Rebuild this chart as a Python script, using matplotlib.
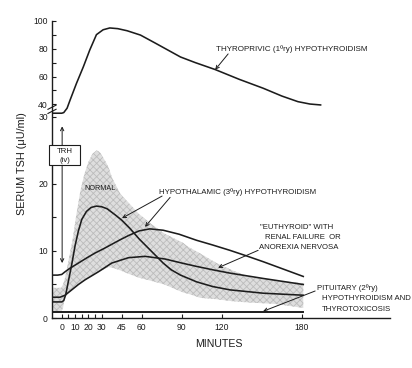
import numpy as np
import matplotlib
matplotlib.use('Agg')
import matplotlib.pyplot as plt
from matplotlib.patches import Rectangle

plt.rcParams['font.family'] = ['Liberation Sans', 'DejaVu Sans']
plt.rcParams['hatch.linewidth'] = 0.6

# ---------------- data (minutes, serum TSH uU/ml) ----------------
t_thyro = [-7.3, 0, 1.5, 4, 6.2, 11, 16.2, 21, 26, 31, 36, 42, 49, 59, 70, 89, 100, 115, 133, 151, 165, 177, 186, 194]
v_thyro = [33, 33, 33.5, 37, 43, 55, 67, 79, 90, 93.5, 94.8, 94.3, 92.8, 89.7, 84, 74, 70, 65, 58, 51.6, 46, 42, 40.3, 39.6]

t_upper = [-7.3, -3, 0, 2.5, 6, 12.5, 19, 25, 31, 37.5, 44, 50, 58, 66, 76, 88, 101, 113, 126, 138, 151, 166, 181]
v_upper = [6.4, 6.4, 6.5, 6.9, 7.4, 8.2, 9.0, 9.7, 10.3, 11.0, 11.7, 12.3, 13.0, 13.3, 13.1, 12.5, 11.6, 10.9, 10.1, 9.3, 8.4, 7.3, 6.2]

t_lower = [-7.3, -1.3, 2.5, 7.5, 12.5, 17.5, 27.5, 37.5, 50, 62.5, 77.5, 90, 101, 113, 126, 151, 181]
v_lower = [3.1, 3.1, 3.4, 4.2, 5.0, 5.7, 6.9, 8.2, 9.0, 9.2, 8.8, 8.2, 7.7, 7.2, 6.7, 5.9, 5.0]

t_peak = [-7.3, 0, 1.5, 3, 5, 7.5, 10, 12.5, 15, 18.5, 22, 26, 30, 34, 40, 45, 51, 58, 64, 70, 76, 82, 89, 101, 113, 126, 151, 181]
v_peak = [2.4, 2.4, 2.6, 3.5, 5.5, 8.0, 10.8, 13.0, 14.7, 15.9, 16.5, 16.7, 16.6, 16.3, 15.4, 14.6, 13.4, 11.8, 10.6, 9.4, 8.2, 7.2, 6.4, 5.4, 4.7, 4.2, 3.7, 3.4]

t_pit = [-7.3, 181]
v_pit = [0.9, 0.9]

# normal range band
t_band = [-7.3, -0.5, 1, 2.5, 3, 5, 7.5, 8, 11, 14, 17, 17.5, 20, 23, 26, 27.5, 29, 33, 35, 38, 44, 50, 58, 66, 77, 91, 95, 104, 116, 128, 141, 160, 181]
band_hi = [4.5, 4.5, 5.0, 6.0, 6.5, 8.5, 11.0, 11.5, 15.5, 19.0, 21.5, 21.8, 23.3, 24.5, 25.0, 24.9, 24.6, 23.3, 22.5, 20.8, 18.5, 17.2, 15.5, 14.2, 12.6, 11.2, 10.6, 9.6, 8.2, 7.1, 6.1, 5.6, 5.2]
band_lo = [0.9, 0.9, 1.5, 3.4, 3.5, 3.8, 4.2, 4.3, 4.8, 5.3, 5.6, 5.7, 6.0, 6.4, 6.7, 6.9, 7.0, 7.4, 7.6, 7.5, 7.1, 6.6, 6.0, 5.6, 5.0, 3.8, 3.6, 3.0, 2.8, 2.5, 2.3, 2.1, 1.5]

x_ticks = [0, 10, 20, 30, 45, 60, 90, 120, 180]
x_minor = [5, 15, 25]
y_ticks = [0, 10, 20, 30, 40, 60, 80, 100]
y_minor = [5, 15, 25, 50, 70, 90]

# ---------------- broken y scale ----------------
GAP = 0.187
UP = 0.2083
Z40 = 30 + 10 * GAP


def fwd(y):
    y = np.asarray(y, dtype=float)
    return np.where(y <= 30, y, np.where(y <= 40, 30 + (y - 30) * GAP, Z40 + (y - 40) * UP))


def inv(z):
    z = np.asarray(z, dtype=float)
    return np.where(z <= 30, z, np.where(z <= Z40, 30 + (z - 30) / GAP, 40 + (z - Z40) / UP))


INK = '#1c1c1c'
fig = plt.figure(figsize=(4.12, 3.68), dpi=100)
ax = fig.add_axes([52 / 412, 50 / 368, 338 / 412, 297.3 / 368])
ax.set_yscale('function', functions=(fwd, inv))
ax.set_xlim(-7.3, 246)
ax.set_ylim(0, 100)

for s in ['top', 'right']:
    ax.spines[s].set_visible(False)
for s in ['left', 'bottom']:
    ax.spines[s].set_linewidth(1.0)
    ax.spines[s].set_color(INK)

ax.set_xticks(x_ticks)
ax.set_xticklabels([str(v) for v in x_ticks])
ax.set_xticks(x_minor, minor=True)
ax.set_yticks(y_ticks)
ax.set_yticklabels([str(v) for v in y_ticks])
ax.set_yticks(y_minor, minor=True)
ax.tick_params(which='both', direction='in', length=3.2, width=0.8, color=INK,
               labelsize=6.2, labelcolor=INK)
ax.tick_params(axis='x', pad=3.5)
ax.tick_params(axis='y', pad=3)

# band (stippled normal range)
ax.fill_between(t_band, band_lo, band_hi, facecolor='#dedede', edgecolor='#bcbcbc',
                hatch='xxxxx', linewidth=0, zorder=1)

lw = 1.15
ax.plot(t_thyro, v_thyro, color=INK, lw=lw, zorder=3)
ax.plot(t_upper, v_upper, color=INK, lw=lw, zorder=3)
ax.plot(t_lower, v_lower, color=INK, lw=lw, zorder=3)
ax.plot(t_peak, v_peak, color=INK, lw=lw, zorder=3)
ax.plot(t_pit, v_pit, color=INK, lw=1.4, zorder=3)

# axis break marks
for dy in (0.0, 0.014):
    ax.plot([-0.012, 0.012], [0.688 + dy, 0.702 + dy], transform=ax.transAxes,
            color=INK, lw=0.8, clip_on=False)

# TRH box and arrows
ax.add_patch(Rectangle((-9.5, 22.8), 23.2, 3.0, fill=True, fc='white', ec=INK,
                       lw=0.8, clip_on=False, zorder=4))
ax.text(2.1, 24.85, 'TRH', ha='center', va='center', fontsize=5.6, color=INK, zorder=5)
ax.text(2.1, 23.5, '(iv)', ha='center', va='center', fontsize=5.6, color=INK, zorder=5)
arw = dict(arrowstyle='->', lw=0.7, color=INK, mutation_scale=6, shrinkA=0, shrinkB=0)
ax.annotate('', xy=(0.3, 28.6), xytext=(0.3, 25.8), arrowprops=arw, zorder=5)
ax.annotate('', xy=(0.3, 8.2), xytext=(0.3, 22.8), arrowprops=arw, zorder=5)

fs = 5.8
ax.text(172.3, 79.7, 'THYROPRIVIC (1ºry) HYPOTHYROIDISM', ha='center', va='center',
        fontsize=fs, color=INK)
ax.annotate('', xy=(115, 64.9), xytext=(124.7, 76.2), arrowprops=arw)

ax.text(28.7, 19.4, 'NORMAL', ha='center', va='center', fontsize=5.2, color=INK, zorder=5)

ax.text(131.8, 18.8, 'HYPOTHALAMIC (3ºry) HYPOTHYROIDISM', ha='center', va='center',
        fontsize=5.7, color=INK)
ax.annotate('', xy=(45.2, 14.9), xytext=(75.2, 18.2), arrowprops=arw)
ax.annotate('', xy=(62.4, 13.6), xytext=(81.2, 18.0), arrowprops=arw)

ax.text(148.7, 13.5, '"EUTHYROID" WITH', ha='left', va='center', fontsize=5.6, color=INK)
ax.text(152.4, 12.0, 'RENAL FAILURE  OR', ha='left', va='center', fontsize=5.6, color=INK)
ax.text(147.9, 10.55, 'ANOREXIA NERVOSA', ha='left', va='center', fontsize=5.6, color=INK)
ax.annotate('', xy=(117.2, 7.5), xytext=(147.2, 10.1), arrowprops=arw)

ax.text(191.4, 4.43, 'PITUITARY (2ºry)', ha='left', va='center', fontsize=5.6, color=INK)
ax.text(195.1, 2.84, 'HYPOTHYROIDISM AND', ha='left', va='center', fontsize=5.6, color=INK)
ax.text(195.1, 1.34, 'THYROTOXICOSIS', ha='left', va='center', fontsize=5.6, color=INK)
ax.annotate('', xy=(150.9, 1.0), xytext=(189.9, 4.03), arrowprops=arw)

ax.text(0.493, -0.086, 'MINUTES', transform=ax.transAxes, ha='center', va='center',
        fontsize=7.6, color=INK)
ax.text(-0.0888, 0.518, 'SERUM TSH (μU/ml)', transform=ax.transAxes, rotation=90,
        ha='center', va='center', fontsize=7.8, color=INK)

fig.savefig('out.png', dpi=100)
